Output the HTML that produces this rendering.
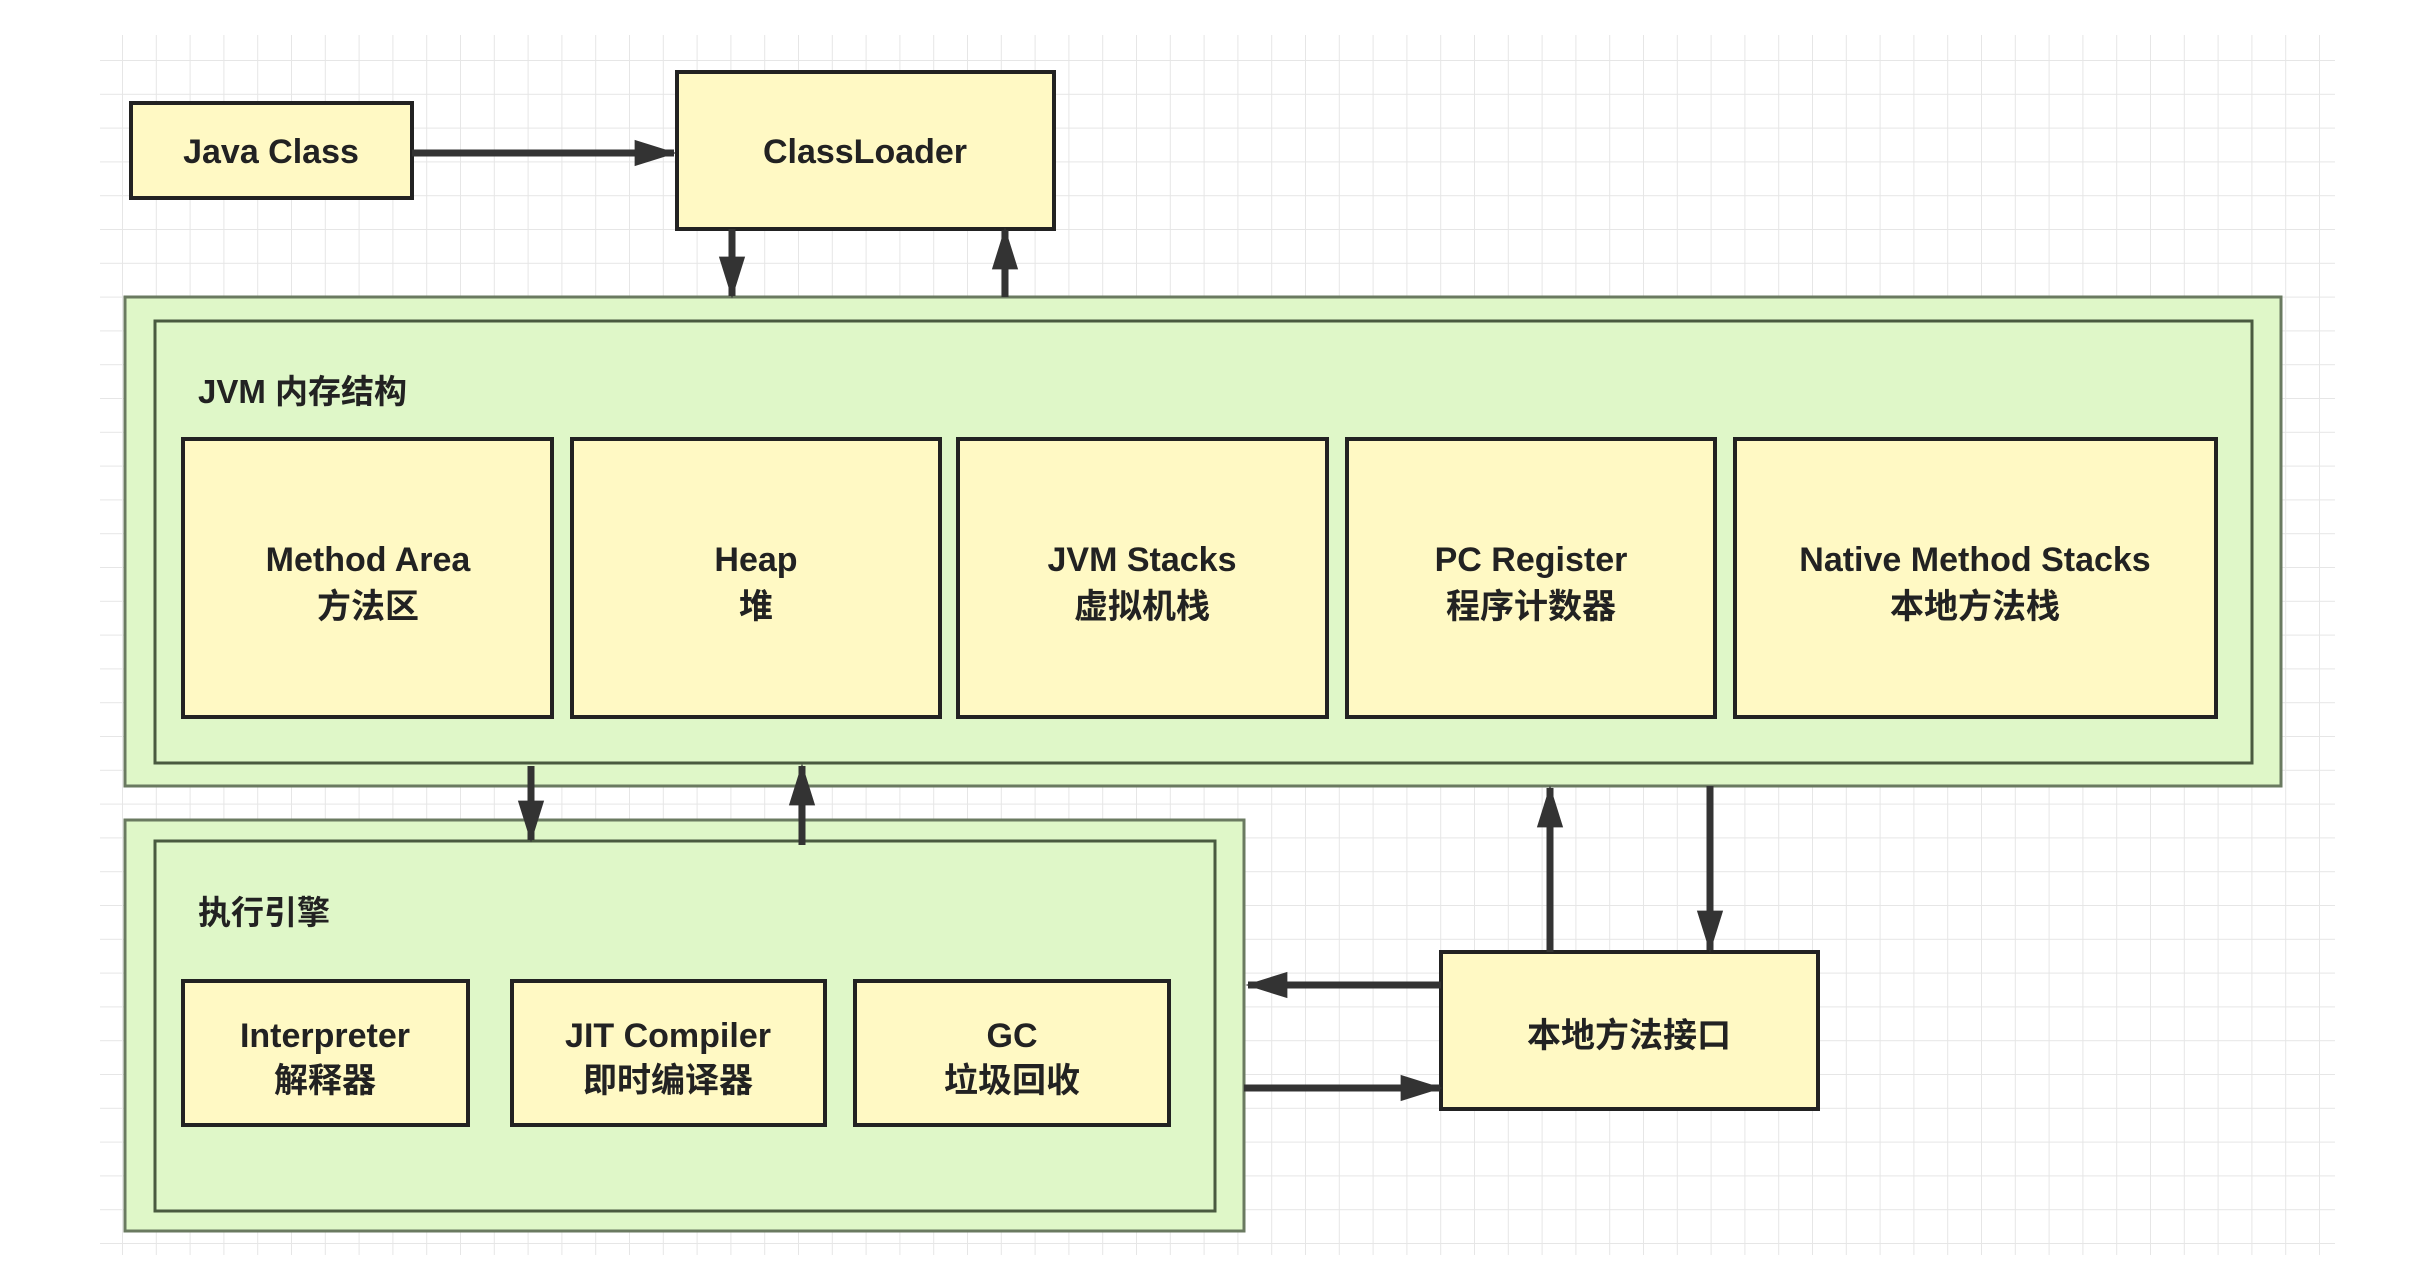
<!DOCTYPE html>
<html><head><meta charset="utf-8"><style>
html,body{margin:0;padding:0;background:#fff;}
svg{display:block;}
text{font-family:"Liberation Sans","Noto Sans CJK SC",sans-serif;font-weight:bold;fill:#222;}
</style></head><body>
<svg width="2412" height="1266" viewBox="0 0 2412 1266" xmlns="http://www.w3.org/2000/svg">
<defs>
<pattern id="g" x="122" y="60" width="33.8" height="33.8" patternUnits="userSpaceOnUse">
<path d="M0 0V33.8M0 0H33.8" stroke="#e6e6e6" stroke-width="2" fill="none"/>
</pattern>
<marker id="a" viewBox="0 0 16 10" refX="15" refY="5" markerWidth="6" markerHeight="4" orient="auto" markerUnits="strokeWidth">
<path d="M0 0L16 5L0 10z" fill="#333"/></marker>
</defs>
<rect x="100" y="35" width="2235" height="1220" fill="url(#g)"/>
<g stroke="#222" stroke-width="4" fill="#fff9c4">
<rect x="131" y="103" width="281" height="95"/>
<rect x="677" y="72" width="377" height="157"/>
</g>
<text x="271" y="163" font-size="34" text-anchor="middle">Java Class</text>
<text x="865" y="163" font-size="34" text-anchor="middle">ClassLoader</text>

<rect x="125" y="297" width="2156" height="489" fill="#dff7c8" stroke="#6a7a60" stroke-width="3"/>
<rect x="155" y="321" width="2097" height="442" fill="#dff7c8" stroke="#4a5a40" stroke-width="3"/>
<text x="198" y="403" font-size="33">JVM 内存结构</text>
<g stroke="#222" stroke-width="4" fill="#fff9c4">
<rect x="183" y="439" width="369" height="278"/>
<rect x="572" y="439" width="368" height="278"/>
<rect x="958" y="439" width="369" height="278"/>
<rect x="1347" y="439" width="368" height="278"/>
<rect x="1735" y="439" width="481" height="278"/>
</g>
<g font-size="34" text-anchor="middle">
<text x="368" y="571">Method Area</text><text x="368" y="618">方法区</text>
<text x="756" y="571">Heap</text><text x="756" y="618">堆</text>
<text x="1142" y="571">JVM Stacks</text><text x="1142" y="618">虚拟机栈</text>
<text x="1531" y="571">PC Register</text><text x="1531" y="618">程序计数器</text>
<text x="1975" y="571">Native Method Stacks</text><text x="1975" y="618">本地方法栈</text>
</g>

<rect x="125" y="820" width="1119" height="411" fill="#dff7c8" stroke="#6a7a60" stroke-width="3"/>
<rect x="155" y="841" width="1060" height="370" fill="#dff7c8" stroke="#4a5a40" stroke-width="3"/>
<text x="198" y="924" font-size="33">执行引擎</text>
<g stroke="#222" stroke-width="4" fill="#fff9c4">
<rect x="183" y="981" width="285" height="144"/>
<rect x="512" y="981" width="313" height="144"/>
<rect x="855" y="981" width="314" height="144"/>
<rect x="1441" y="952" width="377" height="157"/>
</g>
<g font-size="34" text-anchor="middle">
<text x="325" y="1047">Interpreter</text><text x="325" y="1092">解释器</text>
<text x="668" y="1047">JIT Compiler</text><text x="668" y="1092">即时编译器</text>
<text x="1012" y="1047">GC</text><text x="1012" y="1092">垃圾回收</text>
<text x="1629" y="1047">本地方法接口</text>
</g>

<g stroke="#333" stroke-width="7" fill="none" marker-end="url(#a)">
<line x1="412" y1="153" x2="674" y2="153"/>
<line x1="732" y1="229" x2="732" y2="296"/>
<line x1="1005" y1="297" x2="1005" y2="230"/>
<line x1="531" y1="766" x2="531" y2="840"/>
<line x1="802" y1="845" x2="802" y2="766"/>
<line x1="1550" y1="952" x2="1550" y2="788"/>
<line x1="1710" y1="786" x2="1710" y2="950"/>
<line x1="1441" y1="985" x2="1248" y2="985"/>
<line x1="1244" y1="1088" x2="1440" y2="1088"/>
</g>
</svg>
</body></html>
